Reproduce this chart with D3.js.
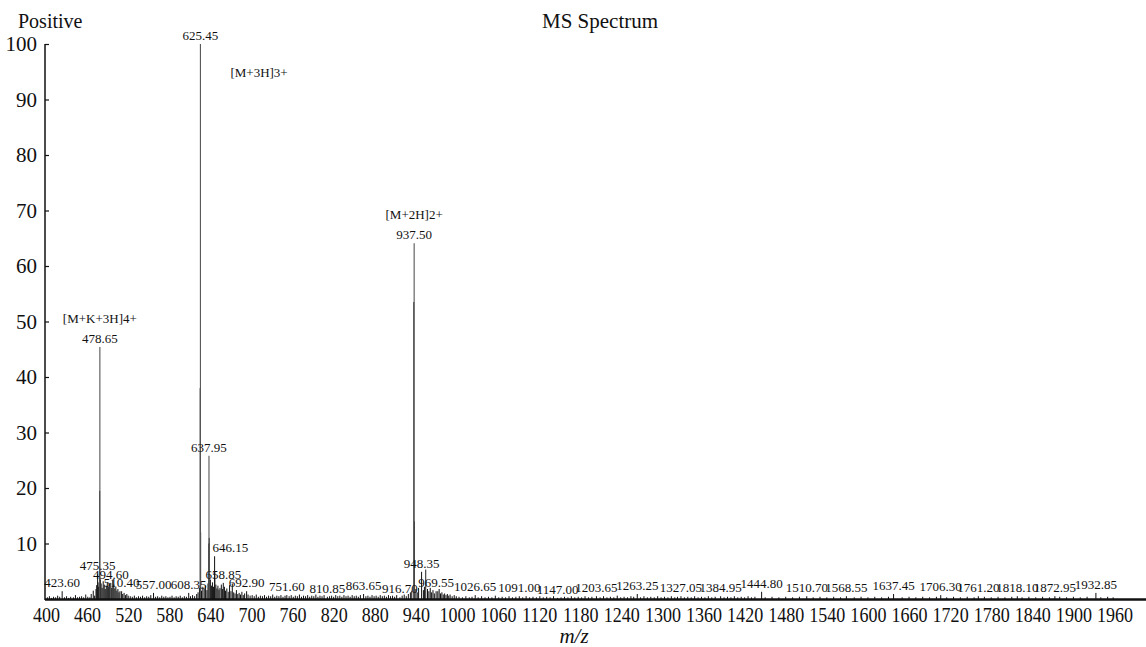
<!DOCTYPE html>
<html>
<head>
<meta charset="utf-8">
<script src="https://cdn.jsdelivr.net/npm/d3@7"></script>
<style>
  html, body { margin: 0; padding: 0; background: #fff; }
  svg { display: block; }
  text { font-family: "Liberation Serif", "Times New Roman", serif; fill: #111; }
</style>
</head>
<body>
<svg id="chart" width="1146" height="647"></svg>
<script>
// ---- Data ----
const xTicks = [400,460,520,580,640,700,760,820,880,940,1000,1060,1120,1180,1240,1300,1360,1420,1480,1540,1600,1660,1720,1780,1840,1900,1960];
const yTicks = [10,20,30,40,50,60,70,80,90,100];

// labelled peaks (m/z, relative intensity %)
const peakMz  = [423.60,475.35,478.65,494.60,510.40,557.00,608.35,625.45,637.95,646.15,658.85,692.90,751.60,810.85,863.65,916.70,937.50,948.35,969.55,1026.65,1091.00,1147.00,1203.65,1263.25,1327.05,1384.95,1444.80,1510.70,1568.55,1637.45,1706.30,1761.20,1818.10,1872.95,1932.85];
const peakInt = [1.4,4.5,45.4,2.9,1.4,1.1,1.1,100,25.8,7.7,2.9,1.4,0.7,0.4,0.9,0.3,64.1,4.9,1.4,0.7,0.5,0.2,0.5,0.9,0.5,0.5,1.3,0.5,0.5,0.9,0.7,0.5,0.5,0.5,1.1];

// ion annotations
const ionText = ["[M+K+3H]4+","[M+3H]3+","[M+2H]2+"];
const ionMz   = [478.65,625.45,937.50];

// unlabelled neighbouring / isotope peaks
const isoMz  = [478.40,625.12,625.78,637.62,638.30,646.50,937.00,938.00,954.40];
const isoInt = [19.5,38.0,12.0,10.0,11.0,5.0,53.5,14.0,5.3];

// baseline noise peaks [m/z, %]
const noise = [
 [402,.3],[405,.5],[408,.2],[411,.4],[414,.3],[417,.6],[420,.4],[427,.3],[430,.5],[433,.2],[436,.4],[440,.3],[443,.7],[446,.3],[449,.4],[452,.5],[455,.3],[458,.8],[461,.4],[464,.3],[466,.9],[469,1.5],[471,.6],
 [473,1.8],[474,2.5],[476,3.0],[477,2.2],[479.5,3.5],[480.5,2.8],[482,2.0],[483.5,3.2],[485,2.6],[486.5,1.8],[488,2.4],[489.5,3.0],[491,2.2],[492.5,2.8],[496,2.0],[497.5,3.4],[499,2.6],[500.5,1.9],[502,2.2],[503.5,1.5],[505,1.8],[506.5,1.2],[508,1.4],[512,.9],[514,1.1],[516,.7],[518,.9],[520,.6],
 [523,.5],[526,.4],[529,.6],[532,.3],[535,.5],[538,.4],[541,.6],[544,.3],[547,.5],[550,.4],[553,.7],[560,.4],[563,.5],[566,.3],[569,.6],[572,.4],[575,.5],[578,.3],[581,.4],[584,.6],[587,.3],[590,.5],[593,.4],[596,.6],[599,.3],[602,.5],[605,.4],[611,.5],[614,.7],[617,.5],[620,.9],[622,1.2],
 [624,2.0],[627,1.5],[629,2.2],[631,1.8],[633,2.4],[635,1.6],[636.5,2.8],[640,3.5],[641.5,2.4],[643,3.0],[644.5,2.2],[648,2.6],[649.5,1.9],[651,2.4],[652.5,1.7],[654,2.0],[656,2.6],[657.5,1.8],[660.5,2.2],[662,1.5],[664,1.9],[666,1.3],[668,2.5],[670,1.4],[672,2.8],[674,1.2],[676,1.0],[678,1.6],[680,.9],[682,1.1],[684,.8],[686,1.3],[688,.7],[690,1.0],[695,.8],[698,.6],
 [701,.7],[704,.5],[707,.8],[710,.4],[713,.6],[716,.5],[719,.7],[722,.4],[725,.6],[728,.5],[731,.8],[734,.4],[737,.6],[740,.5],[743,.7],[746,.4],[749,.6],[755,.5],[758,.7],[761,.4],[764,.6],[767,.5],[770,.8],[773,.4],[776,.6],[779,.5],[782,.7],[785,.4],[788,.6],[791,.5],[794,.8],[797,.4],[800,.6],[803,.5],[806,.7],[814,.5],[817,.6],[820,.4],[823,.7],[826,.5],[829,.6],[832,.4],[835,.7],[838,.5],[841,.6],[844,.4],[847,.7],[850,.5],[853,.6],[856,.4],[859,.7],[867,.5],[870,.6],[873,.4],[876,.7],[879,.5],[882,.6],[885,.4],[888,.7],[891,.5],[894,.6],[897,.4],[900,.7],[903,.5],[906,.6],[909,.4],[912,.7],[920,.6],[923,.8],[926,.5],[929,.9],[932,1.2],[934,1.5],
 [940,1.8],[942,1.2],[944,2.0],[951,1.6],[952.5,2.2],[957,1.8],[959,1.4],[961,2.0],[963,1.2],[965,1.6],[967,1.0],[972,1.4],[974,1.8],[976,1.0],[978,1.2],[980,.8],[982,1.0],[984,.7],[986,.9],[988,.6],[990,.8],[993,.5],[996,.7],[999,.5],
 [1003,.4],[1008,.3],[1013,.5],[1018,.3],[1022,.4],[1031,.3],[1036,.5],[1041,.3],[1046,.4],[1051,.3],[1056,.6],[1061,.3],[1066,.4],[1071,.3],[1076,.5],[1081,.3],[1086,.4],[1096,.3],[1101,.5],[1106,.3],[1111,.4],[1116,.3],[1121,.5],[1126,.3],[1131,.4],[1136,.3],[1141,.5],[1152,.3],[1157,.4],[1162,.3],[1167,.5],[1172,.3],[1177,.4],[1182,.3],[1187,.5],[1192,.3],[1197,.4],[1209,.3],[1214,.5],[1219,.3],[1224,.4],[1229,.3],[1234,.6],[1239,.3],[1244,.4],[1249,.3],[1254,.5],[1258,.4],[1268,.3],[1273,.5],[1278,.3],[1283,.4],[1288,.3],[1293,.5],[1298,.3],[1303,.4],[1308,.3],[1313,.5],[1318,.3],[1322,.4],[1332,.3],[1337,.4],[1342,.3],[1347,.5],[1352,.3],[1357,.4],[1362,.3],[1367,.5],[1372,.3],[1377,.4],[1390,.3],[1395,.4],[1400,.3],[1405,.5],[1410,.3],[1415,.4],[1420,.3],[1425,.5],[1430,.3],[1435,.4],[1450,.3],[1460,.4],[1470,.3],[1480,.4],[1490,.3],[1500,.4],[1520,.3],[1530,.4],[1540,.3],[1550,.4],[1560,.3],[1580,.3],[1590,.4],[1600,.3],[1610,.4],[1620,.3],[1630,.4],[1650,.3],[1660,.4],[1670,.3],[1680,.4],[1690,.3],[1700,.4],[1715,.3],[1725,.4],[1735,.3],[1745,.4],[1755,.3],[1770,.4],[1780,.3],[1790,.4],[1800,.3],[1810,.4],[1825,.3],[1835,.4],[1845,.3],[1855,.4],[1865,.3],[1880,.4],[1890,.3],[1900,.4],[1910,.3],[1920,.4],[1940,.3],[1950,.4],[1958,.3]
];

// ---- Layout ----
const W = 1146, H = 647;
const svg = d3.select("#chart");
const x = d3.scaleLinear().domain([400, 1960]).range([46, 1114.5]);
const y = d3.scaleLinear().domain([0, 100]).range([599, 44]);
const axisX0 = 45;

// noise
svg.append("g").selectAll("line").data(noise).join("line")
  .attr("x1", d => x(d[0])).attr("x2", d => x(d[0]))
  .attr("y1", y(0)).attr("y2", d => y(d[1]))
  .attr("stroke", "#111").attr("stroke-width", 1);

// isotope peaks
svg.append("g").selectAll("line").data(isoMz).join("line")
  .attr("x1", d => x(d)).attr("x2", d => x(d))
  .attr("y1", y(0)).attr("y2", (d, i) => y(isoInt[i]))
  .attr("stroke", "#222").attr("stroke-width", 1);

// labelled peaks
const peaks = peakMz.map((m, i) => ({ mz: m, v: peakInt[i] }));
svg.append("g").selectAll("line").data(peaks).join("line")
  .attr("x1", d => x(d.mz)).attr("x2", d => x(d.mz))
  .attr("y1", y(0)).attr("y2", d => y(d.v))
  .attr("stroke", d => d.v > 20 ? "#555" : "#111").attr("stroke-width", d => d.v > 20 ? 1.1 : 1);

svg.append("g").selectAll("text").data(peaks).join("text")
  .attr("x", d => d.mz === 646.15 ? x(d.mz) - 2 : x(d.mz))
  .attr("y", d => y(d.v) - 4)
  .attr("text-anchor", d => d.mz === 646.15 ? "start" : "middle")
  .attr("font-size", 13)
  .text(d => d.mz.toFixed(2));

// ion annotations
svg.append("g").selectAll("text").data(ionText).join("text")
  .attr("x", (d, i) => i === 1 ? x(ionMz[i]) + 30 : x(ionMz[i]))
  .attr("y", (d, i) => {
     const v = peakInt[peakMz.indexOf(ionMz[i])];
     return i === 1 ? y(v) + 33 : y(v) - 24;
  })
  .attr("text-anchor", (d, i) => i === 1 ? "start" : "middle")
  .attr("font-size", 13)
  .text(d => d);

// y axis
const yAxis = d3.axisLeft(y).tickValues(yTicks).tickSize(-4).tickPadding(8).tickFormat(d3.format("d"));
const gy = svg.append("g").attr("transform", `translate(${axisX0},0)`).call(yAxis);
gy.select(".domain").remove();
gy.selectAll(".tick line").attr("stroke", "#111").attr("stroke-width", 1.2);
gy.selectAll(".tick text").attr("font-size", 21).attr("font-family", "Liberation Serif").attr("fill", "#111");
svg.append("line").attr("x1", axisX0).attr("x2", axisX0).attr("y1", y(100)).attr("y2", y(0) + 1)
  .attr("stroke", "#111").attr("stroke-width", 1.5);

// x axis
const xAxis = d3.axisBottom(x).tickValues(xTicks).tickSize(0).tickPadding(8).tickFormat(d3.format("d"));
const gx = svg.append("g").attr("transform", `translate(0,${y(0)})`).call(xAxis);
gx.select(".domain").remove();
gx.selectAll(".tick text").attr("font-size", 21.5).attr("font-family", "Liberation Serif").attr("fill", "#111")
  .attr("transform", "scale(0.84,1)");
svg.append("line").attr("x1", axisX0).attr("x2", W).attr("y1", y(0) + 0.5).attr("y2", y(0) + 0.5)
  .attr("stroke", "#111").attr("stroke-width", 2.5);

// titles
svg.append("text").attr("x", 18).attr("y", 28).attr("font-size", 20).text("Positive");
svg.append("text").attr("x", 600).attr("y", 28).attr("text-anchor", "middle").attr("font-size", 21).text("MS Spectrum");
svg.append("text").attr("x", 574).attr("y", 643).attr("text-anchor", "middle").attr("font-size", 21)
  .attr("font-style", "italic").text("m/z");
</script>
</body>
</html>
